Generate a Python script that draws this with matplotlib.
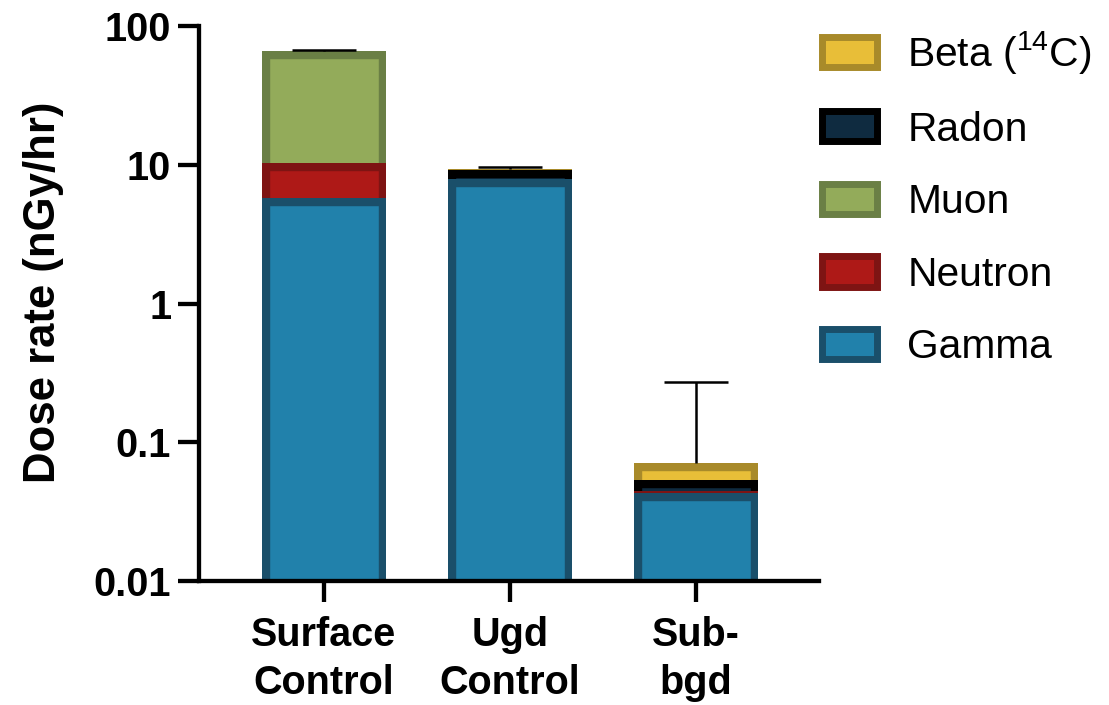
import numpy as np
import matplotlib
matplotlib.use("Agg")
import matplotlib.pyplot as plt
from matplotlib.patches import Patch
from matplotlib.ticker import FixedLocator, FixedFormatter, NullLocator

plt.rcParams['font.family'] = ['Liberation Sans', 'DejaVu Sans']
plt.rcParams['mathtext.fontset'] = 'custom'
plt.rcParams['mathtext.rm'] = 'Liberation Sans'

# data (nGy/hr)
groups = ['Surface\nControl', 'Ugd\nControl', 'Sub-\nbgd']
gamma = [5.76, 7.89, 0.0431]
neutron = [4.5, 0.0, 0.0014]
muon = [55.8, 0.0, 0.0]
radon = [0.0, 1.27, 0.009]
beta = [0.0, 0.15, 0.017]
err_up = [0.8, 0.37, 0.2]

series = ['Gamma', 'Neutron', 'Muon', 'Radon', 'Beta ($\\mathregular{^{14}}$C)']
fills = ['#2181ab', '#ae1917', '#93ab5a', '#0f2b40', '#e8be38']
edges = ['#1a4f6a', '#7e1413', '#6a7f45', '#000000', '#a88a2a']

values = np.array([gamma, neutron, muon, radon, beta])
tops = np.cumsum(values, axis=0)
x = np.arange(len(groups))

fig = plt.figure(figsize=(11.09, 7.05), dpi=100)
ax = fig.add_axes([0.1794, 0.1759, 0.7385 - 0.1794, 0.9631 - 0.1759])
ax.set_yscale('log')

# draw from the tallest stack down so each segment shows its top + sides
for i in range(len(series) - 1, -1, -1):
    bars = ax.bar(x, tops[i] - 1e-4, bottom=1e-4, width=0.667,
                  color=fills[i], edgecolor=edges[i], linewidth=11.1)
    for b in bars:
        b.set_clip_path(b.get_path(), b.get_transform())

eb = ax.errorbar(x, tops[-1], yerr=[np.zeros(3), err_up], fmt='none',
                 ecolor='black', elinewidth=1.8, capsize=22.7, capthick=1.8,
                 zorder=5)
eb[1][0].set_visible(False)

ax.set_xlim(-0.671, 2.663)
ax.set_ylim(0.01, 100)
yt = [0.01, 0.1, 1, 10, 100]
ax.yaxis.set_major_locator(FixedLocator(yt))
ax.yaxis.set_major_formatter(FixedFormatter(['0.01', '0.1', '1', '10', '100']))
ax.yaxis.set_minor_locator(NullLocator())
ax.set_xticks(x)
ax.set_xticklabels(groups, fontsize=28.5, fontweight='bold', linespacing=1.35)
for lab in ax.get_yticklabels():
    lab.set_fontsize(28.5)
    lab.set_fontweight('bold')
ax.tick_params(axis='both', length=15, width=3.1, pad=5)
ax.tick_params(axis='x', pad=10)
for s in ['top', 'right']:
    ax.spines[s].set_visible(False)
for s in ['left', 'bottom']:
    ax.spines[s].set_linewidth(3.1)

ax.set_ylabel('Dose rate (nGy/hr)', fontsize=31.5, fontweight='bold')
ax.yaxis.set_label_coords(-0.218, 0.52)

handles = [Patch(facecolor=fills[i], edgecolor=edges[i], linewidth=5,
                 label=series[i]) for i in range(len(series) - 1, -1, -1)]
fig.legend(handles=handles, loc='upper left', bbox_to_anchor=(0.7265, 0.982),
           frameon=False, fontsize=29.3, handlelength=1.357, handleheight=0.765,
           handletextpad=0.74, labelspacing=0.85, borderaxespad=0)

fig.savefig('out.png', dpi=100)
